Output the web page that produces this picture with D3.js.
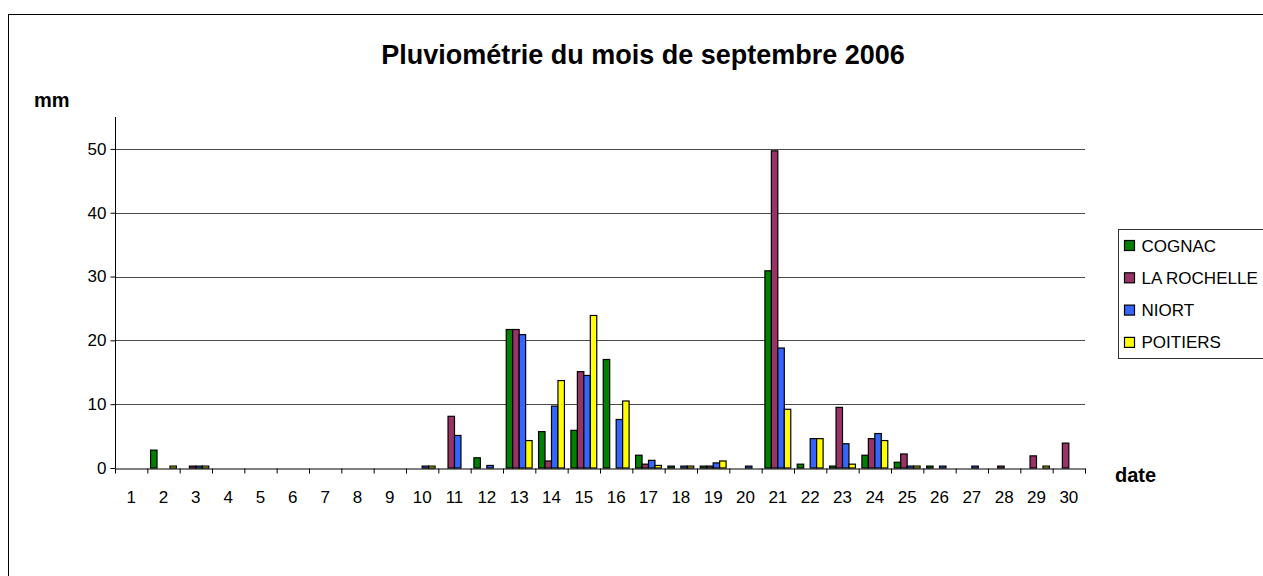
<!DOCTYPE html>
<html>
<head>
<meta charset="utf-8">
<script src="https://cdn.jsdelivr.net/npm/d3@7"></script>
<style>
    body { margin: 0; background: #fff; }
    svg text { font-family: "Liberation Sans", Arial, sans-serif; fill: #000; }
</style>
</head>
<body>
<script>
'use strict';

// jours du mois de septembre 2006
const days = d3.range(1, 31).map(String);
const stations = ['COGNAC', 'LA ROCHELLE', 'NIORT', 'POITIERS'];
const stationColors = ['#008000', '#993366', '#3366FF', '#FFFF00'];
const yTicks = [0, 10, 20, 30, 40, 50];

// pluie en mm, un chiffre par jour
const cognac =    [0, 2.8, 0, 0, 0, 0, 0, 0, 0, 0, 0, 1.6, 21.7, 5.7, 5.9, 17.0, 2.0, 0.3, 0.3, 0, 30.9, 0.6, 0.3, 2.0, 0.9, 0.3, 0, 0, 0, 0];
const laRochelle = [0, 0, 0.3, 0, 0, 0, 0, 0, 0, 0, 8.1, 0, 21.7, 1.1, 15.1, 0, 0.6, 0, 0.3, 0, 49.7, 0, 9.5, 4.6, 2.2, 0, 0, 0.3, 1.9, 3.9];
const niort =     [0, 0, 0.3, 0, 0, 0, 0, 0, 0, 0.3, 5.1, 0.4, 20.9, 9.7, 14.5, 7.6, 1.2, 0.3, 0.8, 0.3, 18.8, 4.6, 3.8, 5.4, 0.3, 0.3, 0.3, 0, 0, 0];
const poitiers =  [0, 0.3, 0.3, 0, 0, 0, 0, 0, 0, 0.3, 0, 0, 4.3, 13.7, 23.9, 10.5, 0.4, 0.3, 1.1, 0, 9.2, 4.6, 0.6, 4.3, 0.3, 0, 0, 0, 0.3, 0];

class RainChart {
    constructor() {
        this.width = 1263;
        this.height = 576;
        this.plot = { left: 115, right: 1085, top: 117, bottom: 468 };
        this.series = [cognac, laRochelle, niort, poitiers];
    }

    draw() {
        this.svg = d3.select('body').append('svg')
            .attr('width', this.width)
            .attr('height', this.height);

        // cadre
        this.svg.append('rect')
            .attr('x', 8.5).attr('y', 14.5)
            .attr('width', 1300).attr('height', 700)
            .attr('fill', '#fff')
            .attr('stroke', '#000');

        this.x = d3.scaleBand().domain(days)
            .range([this.plot.left, this.plot.right]).padding(0);
        const bw = this.x.bandwidth();
        this.x1 = d3.scaleBand().domain(stations)
            .range([bw * 0.1, bw * 0.9]).padding(0);
        this.y = d3.scaleLinear().domain([0, 55])
            .range([this.plot.bottom, this.plot.top]);

        this.drawGrid();
        this.drawBars();
        this.drawAxis();
        this.drawTexts();
        this.drawLegend();
    }

    drawGrid() {
        this.svg.append('g')
            .selectAll('line')
            .data(yTicks.filter((d) => d > 0))
            .join('line')
            .attr('x1', this.plot.left).attr('x2', this.plot.right)
            .attr('y1', (d) => Math.round(this.y(d)) + 0.5)
            .attr('y2', (d) => Math.round(this.y(d)) + 0.5)
            .attr('stroke', '#4a4a4a');
    }

    drawBars() {
        const groups = this.svg.append('g')
            .selectAll('g')
            .data(days)
            .join('g')
            .attr('transform', (d) => `translate(${this.x(d)},0)`);

        groups.selectAll('rect')
            .data((d, i) => stations.map((s, k) => ({ station: s, k: k, value: this.series[k][i] })))
            .join('rect')
            .filter((d) => d.value > 0)
            .attr('x', (d) => this.x1(d.station))
            .attr('y', (d) => this.y(d.value))
            .attr('width', this.x1.bandwidth())
            .attr('height', (d) => this.y(0) - this.y(d.value))
            .attr('fill', (d) => stationColors[d.k])
            .attr('stroke', '#000')
            .attr('stroke-width', 1.2);
    }

    drawAxis() {
        const yAxis = this.svg.append('g')
            .attr('transform', `translate(${this.plot.left + 0.5},0)`)
            .call(d3.axisLeft(this.y).tickValues(yTicks).tickSize(5).tickSizeOuter(0).tickPadding(4));
        yAxis.select('.domain').attr('d', `M0,${this.plot.top}V${this.plot.bottom}`).attr('stroke', '#000');
        yAxis.selectAll('.tick line').attr('stroke', '#000');
        yAxis.selectAll('.tick text')
            .attr('font-family', null)
            .attr('font-size', 17)
            .attr('fill', '#000');

        // graduations entre les jours
        const xEdges = d3.scaleLinear().domain([0, days.length])
            .range([this.plot.left, this.plot.right]);
        const xTicks = this.svg.append('g')
            .attr('transform', `translate(0,${this.plot.bottom + 0.5})`)
            .call(d3.axisBottom(xEdges).tickValues(d3.range(0, days.length + 1))
                .tickSize(5).tickSizeOuter(0).tickFormat(''));
        xTicks.select('.domain').attr('stroke', '#000');
        xTicks.selectAll('.tick line').attr('stroke', '#000');

        const xLabels = this.svg.append('g')
            .attr('transform', `translate(0,${this.plot.bottom + 0.5})`)
            .call(d3.axisBottom(this.x).tickSize(0).tickPadding(22));
        xLabels.select('.domain').remove();
        xLabels.selectAll('.tick text')
            .attr('font-family', null)
            .attr('font-size', 17)
            .attr('fill', '#000');
    }

    drawTexts() {
        this.svg.append('text')
            .attr('x', 643).attr('y', 64)
            .attr('text-anchor', 'middle')
            .attr('font-size', 27)
            .attr('font-weight', 'bold')
            .text('Pluviométrie du mois de septembre 2006');

        this.svg.append('text')
            .attr('x', 34).attr('y', 107)
            .attr('font-size', 20)
            .attr('font-weight', 'bold')
            .text('mm');

        this.svg.append('text')
            .attr('x', 1115).attr('y', 482)
            .attr('font-size', 20)
            .attr('font-weight', 'bold')
            .text('date');
    }

    drawLegend() {
        const legend = this.svg.append('g')
            .attr('transform', 'translate(1118.5,229.5)');

        legend.append('rect')
            .attr('width', 160).attr('height', 129)
            .attr('fill', '#fff')
            .attr('stroke', '#333');

        const items = legend.selectAll('g.item')
            .data(stations)
            .join('g')
            .attr('class', 'item')
            .attr('transform', (d, i) => `translate(0,${16 + i * 32.3})`);

        items.append('rect')
            .attr('x', 6).attr('y', -5)
            .attr('width', 10).attr('height', 10)
            .attr('fill', (d, i) => stationColors[i])
            .attr('stroke', '#000')
            .attr('stroke-width', 1.2);

        items.append('text')
            .attr('x', 23).attr('y', 6)
            .attr('font-size', 17)
            .text((d) => d);
    }
}

new RainChart().draw();
</script>
</body>
</html>
